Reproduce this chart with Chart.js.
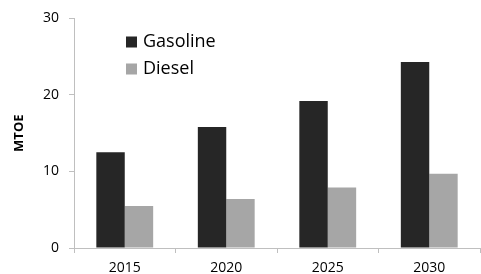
<!DOCTYPE html>
<html>
<head>
<meta charset="utf-8">
<script src="https://cdn.jsdelivr.net/npm/chart.js@4/dist/chart.umd.min.js"></script>
<style>
  html, body { margin: 0; padding: 0; background: #fff; }
  #wrap { width: 481px; height: 274px; }
</style>
</head>
<body>
<div id="wrap"><canvas id="fuelChart"></canvas></div>
<script>
// values
const years = ['2015', '2020', '2025', '2030'];
const gasoline = [12.5, 15.8, 19.2, 24.3];
const diesel = [5.5, 6.4, 7.9, 9.7];
const yTicks = [0, 10, 20, 30];

const FONT = '"Open Sans", "DejaVu Sans", sans-serif';
const AXIS_GREY = '#bfbfbf';

// legend drawn inside the plot, stacked vertically like the original
const insideLegend = {
  id: 'insideLegend',
  afterDraw(chart) {
    const ctx = chart.ctx;
    const x0 = 126, y0 = 42, step = 27, box = 11;
    ctx.save();
    ctx.font = '18px ' + FONT;
    ctx.textBaseline = 'middle';
    ctx.textAlign = 'left';
    chart.data.datasets.forEach((ds, i) => {
      const y = y0 + i * step;
      ctx.fillStyle = ds.backgroundColor;
      ctx.fillRect(x0, y - box / 2, box, box);
      ctx.fillStyle = '#000';
      ctx.fillText(ds.label, x0 + 17, y);
    });
    ctx.restore();
  }
};

const ctx = document.getElementById('fuelChart').getContext('2d');
new Chart(ctx, {
  type: 'bar',
  data: {
    labels: years,
    datasets: [
      { label: 'Gasoline', data: gasoline, backgroundColor: '#262626' },
      { label: 'Diesel', data: diesel, backgroundColor: '#a6a6a6' }
    ]
  },
  options: {
    responsive: true,
    maintainAspectRatio: false,
    animation: false,
    layout: { padding: { top: 18, right: 1, left: 0, bottom: 0 } },
    datasets: {
      bar: { categoryPercentage: 0.56, barPercentage: 1.0 }
    },
    plugins: {
      legend: { display: false },
      tooltip: { enabled: false }
    },
    scales: {
      x: {
        grid: {
          display: true,
          drawOnChartArea: false,
          tickLength: 5,
          color: AXIS_GREY
        },
        border: { display: true, color: AXIS_GREY },
        ticks: { color: '#000', font: { family: FONT, size: 14 }, padding: 7 },
        afterFit(scale) { scale.height = 26; }
      },
      y: {
        min: 0,
        max: 30,
        afterBuildTicks(scale) {
          scale.ticks = yTicks.map(v => ({ value: v }));
        },
        grid: {
          display: true,
          drawOnChartArea: false,
          tickLength: 5,
          color: AXIS_GREY
        },
        border: { display: true, color: AXIS_GREY },
        ticks: { color: '#000', font: { family: FONT, size: 14 }, padding: 10 },
        title: {
          display: true,
          text: 'MTOE',
          color: '#000',
          font: { family: FONT, size: 13, weight: 'bold' },
          padding: { top: 11, bottom: 0 }
        },
        afterFit(scale) { scale.width = 74; }
      }
    }
  },
  plugins: [insideLegend]
});
</script>
</body>
</html>
